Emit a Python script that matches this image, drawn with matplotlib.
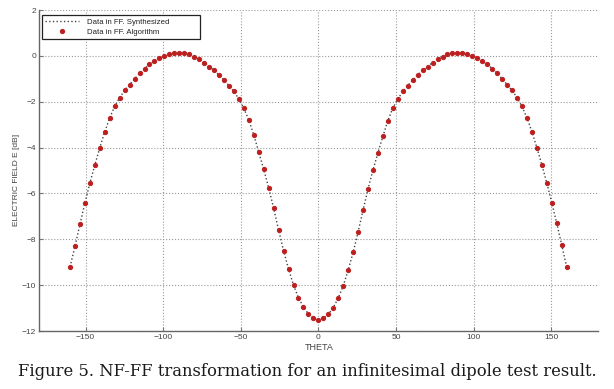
import matplotlib
matplotlib.use('Agg')
import matplotlib.pyplot as plt
import numpy as np

plt.rcParams['font.family'] = ['Liberation Sans', 'DejaVu Sans']

# theta samples (deg), left half -160..0, right half 3.2..160
theta_left = [-160, -156.8, -153.6, -150.4, -147.2, -144, -140.8, -137.6, -134.4,
              -131.2, -128, -124.8, -121.6, -118.4, -115.2, -112, -108.8, -105.6,
              -102.4, -99.2, -96, -92.8, -89.6, -86.4, -83.2, -80, -76.8, -73.6,
              -70.4, -67.2, -64, -60.8, -57.6, -54.4, -51.2, -48, -44.8, -41.6,
              -38.4, -35.2, -32, -28.8, -25.6, -22.4, -19.2, -16, -12.8, -9.6,
              -6.4, -3.2, 0]
e_left = [-9.2, -8.3, -7.35, -6.4, -5.55, -4.75, -4.0, -3.3, -2.7, -2.2, -1.82,
          -1.5, -1.25, -1.0, -0.76, -0.55, -0.37, -0.22, -0.1, 0.0, 0.08, 0.13,
          0.14, 0.12, 0.07, -0.03, -0.15, -0.29, -0.46, -0.63, -0.82, -1.06,
          -1.29, -1.55, -1.88, -2.28, -2.8, -3.45, -4.2, -4.95, -5.75, -6.65,
          -7.6, -8.5, -9.3, -10.0, -10.55, -10.95, -11.26, -11.45, -11.52]
theta_right = [3.2, 6.4, 9.6, 12.8, 16, 19.2, 22.4, 25.6, 28.8, 32, 35.2, 38.4,
               41.6, 44.8, 48, 51.2, 54.4, 57.6, 60.8, 64, 67.2, 70.4, 73.6, 76.8,
               80, 83.2, 86.4, 89.6, 92.8, 96, 99.2, 102.4, 105.6, 108.8, 112,
               115.2, 118.4, 121.6, 124.8, 128, 131.2, 134.4, 137.6, 140.8, 144,
               147.2, 150.4, 153.6, 156.8, 160]
e_right = [-11.45, -11.27, -10.98, -10.56, -10.04, -9.34, -8.57, -7.68, -6.72,
           -5.8, -4.98, -4.22, -3.5, -2.82, -2.27, -1.88, -1.55, -1.29, -1.05,
           -0.82, -0.63, -0.46, -0.29, -0.15, -0.03, 0.07, 0.12, 0.14, 0.13, 0.09,
           0.01, -0.1, -0.22, -0.37, -0.55, -0.76, -1.0, -1.25, -1.5, -1.82,
           -2.2, -2.7, -3.3, -4.0, -4.75, -5.55, -6.4, -7.3, -8.25, -9.2]

theta = np.array(theta_left + theta_right)
e_alg = np.array(e_left + e_right)
e_syn = e_alg.copy()

xticks = [-150, -100, -50, 0, 50, 100, 150]
yticks = [-12, -10, -8, -6, -4, -2, 0, 2]

fig = plt.figure(figsize=(6.14, 3.89), dpi=100)
ax = fig.add_axes([0.0635, 0.149, 0.910, 0.825])

ax.plot(theta, e_syn, ':', color='#444444', lw=1.0, label='Data in FF. Synthesized')
ax.plot(theta, e_alg, 'o', color='#b81c1c', mec='#c02525', ms=2.8, ls='none',
        label='Data in FF. Algorithm')

ax.set_xlim(-180, 180)
ax.set_ylim(-12, 2)
ax.set_xticks(xticks)
ax.set_yticks(yticks)
ax.grid(True, ls=':', color='#9a9a9a', lw=0.8)
ax.tick_params(direction='in', length=3, width=0.8, color='#777777',
               labelsize=6, labelcolor='#444444', pad=2)
for s in ['top', 'right']:
    ax.spines[s].set_visible(False)
for s in ['left', 'bottom']:
    ax.spines[s].set_color('#666666')
    ax.spines[s].set_linewidth(1.0)

fig.text(319/614, 1 - 347/389, 'THETA', ha='center', va='center',
         fontsize=6.5, color='#444444')
fig.text(17/614, 1 - 180/389, 'ELECTRIC FIELD E [dB]', ha='center', va='center',
         rotation=90, fontsize=6, color='#444444')

leg = ax.legend(loc='upper left', bbox_to_anchor=(0.005, 0.984, 0.284, 0.0),
                mode='expand', fontsize=5.6,
                handlelength=4.4, handletextpad=1.0, labelspacing=0.35,
                borderpad=0.4, borderaxespad=0, fancybox=False, framealpha=1,
                edgecolor='#222222')
leg.get_frame().set_linewidth(0.9)
for t in leg.get_texts():
    t.set_color('#222222')

fig.text(0.5, 1 - 372/389,
         'Figure 5. NF-FF transformation for an infinitesimal dipole test result.',
         ha='center', va='center', fontsize=11.8, family='DejaVu Serif',
         color='#1a1a1a')

fig.savefig('out.png', dpi=100)
